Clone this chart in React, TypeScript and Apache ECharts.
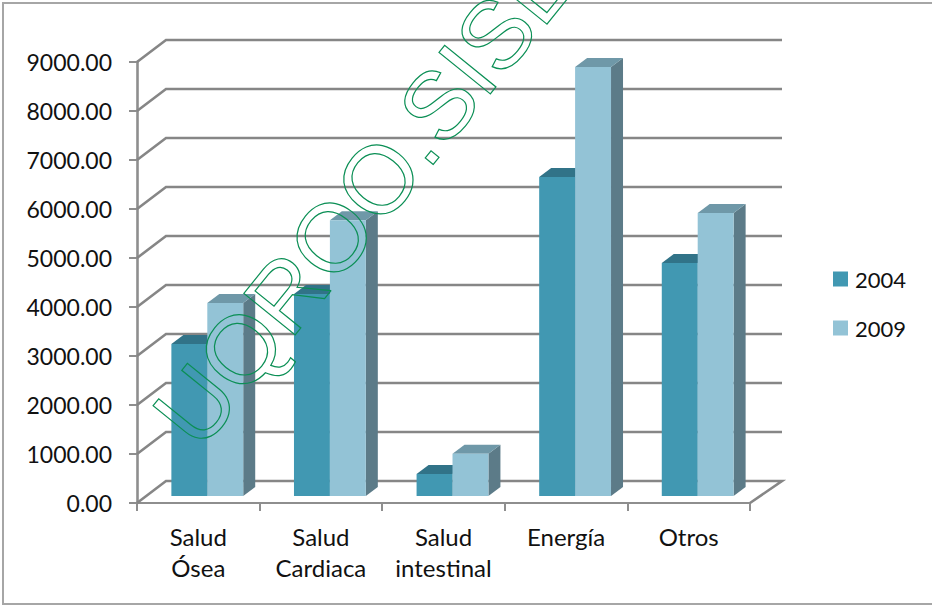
import React, { useEffect, useRef } from "react";
import * as echarts from "echarts";

const categories = ["Salud\nÓsea", "Salud\nCardiaca", "Salud\nintestinal", "Energía", "Otros"];
const values2004 = [3100, 4120, 450, 6510, 4755];
const values2009 = [3940, 5630, 860, 8755, 5775];
const yTicks = [0, 1000, 2000, 3000, 4000, 5000, 6000, 7000, 8000, 9000];
const watermark = "UQROO.SISE";

const FONT = "Lato";
const GRID_COLOR = "#868686";

// Perspective offsets of the back wall and of the bar bodies
const WALL_DX = 29;
const WALL_DY = -22;
const BAR_SHIFT_X = 9;
const BAR_SHIFT_Y = -7;
const BAR_DEPTH_X = 12;
const BAR_DEPTH_Y = -9;

type Faces = { front: string; top: string; side: string };

// One 3D column: front rectangle, top and side parallelograms
function columnRenderer(slot: number, faces: Faces) {
  return (_params: any, api: any) => {
    const base = api.coord([api.value(0), 0]);
    const tip = api.coord([api.value(0), api.value(1)]);
    const band = api.size([1, 0])[0];
    const w = band * 0.293;
    const x0 = base[0] + BAR_SHIFT_X + (slot - 1) * w;
    const x1 = x0 + w;
    const yb = base[1] + BAR_SHIFT_Y;
    const yt = tip[1] + BAR_SHIFT_Y;
    const dx = BAR_DEPTH_X;
    const dy = BAR_DEPTH_Y;
    return {
      type: "group",
      children: [
        { type: "polygon", shape: { points: [[x1, yt], [x1 + dx, yt + dy], [x1 + dx, yb + dy], [x1, yb]] }, style: { fill: faces.side } },
        { type: "polygon", shape: { points: [[x0, yt], [x0 + dx, yt + dy], [x1 + dx, yt + dy], [x1, yt]] }, style: { fill: faces.top } },
        { type: "rect", shape: { x: x0, y: yt, width: w, height: yb - yt }, style: { fill: faces.front } },
      ],
    };
  };
}

// Gridline running along the side wall and the back wall; the zero line also closes the floor
function wallRenderer(params: any, api: any) {
  const cs = params.coordSys;
  const y = api.coord([0, api.value(1)])[1];
  const points = [
    [cs.x, y],
    [cs.x + WALL_DX, y + WALL_DY],
    [cs.x + cs.width + WALL_DX + 3, y + WALL_DY],
  ];
  if (api.value(1) === 0) points.push([cs.x + cs.width, y]);
  return {
    type: "polyline",
    shape: { points },
    style: { fill: "none", stroke: GRID_COLOR, lineWidth: 2.6 },
  };
}

export default function App() {
  const ref = useRef<HTMLDivElement>(null);
  useEffect(() => {
    const chart = echarts.init(ref.current!, undefined, { renderer: "svg" });
    const toData = (vals: number[]) => vals.map((v, i) => [i, v]);
    chart.setOption({
      animation: false,
      backgroundColor: "#ffffff",
      grid: { left: 137, right: 182, top: 62, bottom: 102 },
      legend: {
        data: [
          { name: "2004", icon: "rect" },
          { name: "2009", icon: "rect" },
        ],
        orient: "vertical",
        left: 828,
        top: 263,
        itemWidth: 15,
        itemHeight: 15,
        itemGap: 27,
        textStyle: { fontFamily: FONT, fontSize: 22, color: "#111111", padding: [0, 0, 0, 2] },
      },
      xAxis: {
        type: "category",
        data: categories,
        boundaryGap: true,
        axisLine: { lineStyle: { color: "#8e8e8e", width: 2 } },
        axisTick: { show: true, alignWithLabel: false, length: 8, lineStyle: { color: "#8e8e8e", width: 2 } },
        axisLabel: { fontFamily: FONT, fontSize: 24, color: "#111111", lineHeight: 31, margin: 18, interval: 0 },
      },
      yAxis: {
        type: "value",
        min: 0,
        max: 9000,
        interval: 1000,
        splitLine: { show: false },
        axisLine: { show: true, lineStyle: { color: "#8e8e8e", width: 2.6 } },
        axisTick: { show: true, length: 8, lineStyle: { color: "#8e8e8e", width: 2 } },
        axisLabel: {
          fontFamily: FONT,
          fontSize: 23,
          color: "#111111",
          margin: 25,
          formatter: (v: number) => v.toFixed(2),
        },
      },
      series: [
        {
          type: "custom",
          name: "walls",
          silent: true,
          z: 1,
          renderItem: wallRenderer,
          data: yTicks.map((t) => [0, t]),
          encode: { x: 0, y: 1 },
        },
        {
          type: "custom",
          name: "2004",
          z: 3,
          itemStyle: { color: "#4198b2" },
          renderItem: columnRenderer(0, { front: "#4198b2", top: "#317388", side: "#2f6f84" }),
          data: toData(values2004),
          encode: { x: 0, y: 1 },
        },
        {
          type: "custom",
          name: "2009",
          z: 4,
          itemStyle: { color: "#93c3d6" },
          renderItem: columnRenderer(1, { front: "#93c3d6", top: "#6f98a8", side: "#5c7b88" }),
          data: toData(values2009),
          encode: { x: 0, y: 1 },
        },
      ],
      graphic: [
        {
          type: "rect",
          z: 0,
          silent: true,
          shape: { x: 3, y: 3, width: 940, height: 601 },
          style: { fill: "none", stroke: "#a6a6a6", lineWidth: 2 },
        },
        {
          type: "text",
          z: 100,
          silent: true,
          x: 211,
          y: 462,
          rotation: (51 * Math.PI) / 180,
          style: {
            text: watermark,
            fontFamily: "Liberation Sans",
            fontSize: 96,
            fill: "transparent",
            stroke: "#0b8f55",
            lineWidth: 1.2,
            textAlign: "left",
            textVerticalAlign: "bottom",
          },
        },
      ],
    });
    return () => chart.dispose();
  }, []);
  return <div ref={ref} style={{ position: "fixed", left: 0, top: 0, width: 932, height: 605 }} />;
}
